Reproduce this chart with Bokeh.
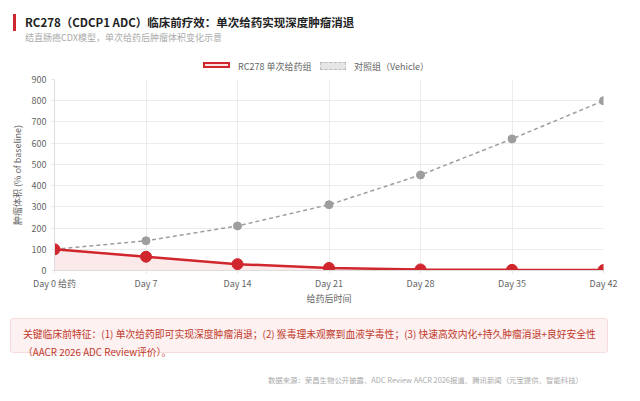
from bokeh.plotting import figure
from bokeh.models import (ColumnDataSource, FixedTicker, Range1d, Div)
from bokeh.layouts import column
from bokeh.embed import file_html
from bokeh.resources import INLINE

# ---- data ----
days = [0, 7, 14, 21, 28, 35, 42]
day_labels = ["Day 0 给药", "Day 7", "Day 14", "Day 21", "Day 28", "Day 35", "Day 42"]
rc278 = [100, 65, 30, 12, 5, 3, 2]
vehicle = [100, 140, 210, 310, 450, 620, 800]
y_ticks = [0, 100, 200, 300, 400, 500, 600, 700, 800, 900]

title_text = "RC278（CDCP1 ADC）临床前疗效：单次给药实现深度肿瘤消退"
subtitle_text = "结直肠癌CDX模型，单次给药后肿瘤体积变化示意"
series_names = ["RC278 单次给药组", "对照组（Vehicle）"]
x_title = "给药后时间"
y_title = "肿瘤体积 (% of baseline)"
note_lines = ["关键临床前特征：(1) 单次给药即可实现深度肿瘤消退；(2) 猴毒理未观察到血液学毒性；(3) 快速高效内化+持久肿瘤消退+良好安全性",
              "（AACR 2026 ADC Review评价）。"]
source_text = "数据来源：荣昌生物公开披露、ADC Review AACR 2026报道、腾讯新闻（元宝提供、智能科技）"

CJK = "Noto Sans CJK SC"
RED = "#d0262d"
PINK = "#fbe3e4"
GRAY = "#9e9e9e"
W = 636
HH = 72          # header height
MB = 40          # chart bottom border
PH = 270 - HH + MB
NH = 396 - HH - PH
NT = 318 - HH - PH   # note box top inside note div

# ---- header: title, subtitle, legend ----
header = Div(width=W, height=HH, margin=0, text=(
    f'<div style="position:relative;width:{W}px;height:{HH}px;font-family:\'{CJK}\';">'
    f'<div style="position:absolute;left:13px;top:14px;width:3px;height:17px;background:{RED};"></div>'
    f'<div style="position:absolute;left:25px;top:14px;line-height:16px;font-size:11.5px;'
    f'font-weight:bold;color:#222;white-space:nowrap;">{title_text}</div>'
    f'<div style="position:absolute;left:25px;top:32px;line-height:12px;font-size:9px;'
    f'color:#aaa;white-space:nowrap;">{subtitle_text}</div>'
    f'<div style="position:absolute;left:203px;top:62px;width:27px;height:6px;'
    f'background:{PINK};border:2px solid {RED};"></div>'
    f'<div style="position:absolute;left:238px;top:61px;line-height:12px;font-size:9px;'
    f'color:#666;white-space:nowrap;">{series_names[0]}</div>'
    f'<div style="position:absolute;left:320px;top:62px;width:26px;height:8px;'
    f'background:#e6e6e6;border:1px dashed #bdbdbd;"></div>'
    f'<div style="position:absolute;left:354px;top:61px;line-height:12px;font-size:9px;'
    f'color:#666;white-space:nowrap;">{series_names[1]}</div>'
    '</div>'))

# ---- chart ----
p = figure(width=W, height=PH, output_backend="svg", toolbar_location=None,
           x_range=Range1d(0, 42), y_range=Range1d(0, 900),
           min_border_left=54, min_border_right=33, min_border_top=79 - HH,
           min_border_bottom=MB, margin=0)
p.outline_line_color = None
p.background_fill_color = "white"

src = ColumnDataSource(dict(x=days, r=rc278, v=vehicle, z=[0] * len(days)))

p.varea(x="x", y1="z", y2="r", source=src, fill_color=PINK, fill_alpha=0.8)
p.line("x", "v", source=src, line_color=GRAY, line_width=1.5, line_dash="4 3")
p.scatter("x", "v", source=src, size=8, fill_color=GRAY, line_color=GRAY)
p.line("x", "r", source=src, line_color=RED, line_width=2.5)
p.scatter("x", "r", source=src, size=11, fill_color=RED, line_color=RED)

p.xaxis.ticker = FixedTicker(ticks=days)
p.xaxis.major_label_overrides = {d: l for d, l in zip(days, day_labels)}
p.yaxis.ticker = FixedTicker(ticks=y_ticks)
for ax in (p.xaxis[0], p.yaxis[0]):
    ax.major_label_text_font = CJK
    ax.major_label_text_font_size = "9px"
    ax.major_label_text_color = "#666666"
    ax.axis_label_text_font = CJK
    ax.axis_label_text_font_size = "9px"
    ax.axis_label_text_font_style = "normal"
    ax.axis_label_text_color = "#666666"
    ax.axis_line_color = "#dddddd"
    ax.major_tick_line_color = "#e5e5e5"
    ax.major_tick_out = 3
    ax.major_tick_in = 0
    ax.minor_tick_line_color = None
p.xaxis.axis_label = x_title
p.yaxis.axis_label = y_title
p.xaxis.major_label_standoff = 3
p.yaxis.major_label_standoff = 5
p.xaxis.axis_label_standoff = -1
p.yaxis.axis_label_standoff = 5
p.xgrid.grid_line_color = "#ececec"
p.ygrid.grid_line_color = "#ececec"

# ---- note box + source ----
lines_html = "<br>".join(note_lines)
note = Div(width=W, height=NH, margin=0, text=(
    f'<div style="position:relative;width:{W}px;height:{NH}px;font-family:\'{CJK}\';">'
    f'<div style="position:absolute;left:10px;top:{NT}px;width:598px;height:35px;'
    f'padding:6px 0 6px 12px;background:#fdf1f1;border:1px solid #f6dcdc;border-radius:3px;'
    f'font-size:9.8px;line-height:18px;color:#c0392b;white-space:nowrap;">{lines_html}</div>'
    f'<div style="position:absolute;right:53px;top:{NT + 57}px;font-size:7.4px;line-height:10px;'
    f'color:#aaa;white-space:nowrap;">{source_text}</div>'
    '</div>'))

layout = column(header, p, note, spacing=0)
open("out.html", "w").write(file_html(layout, INLINE))
